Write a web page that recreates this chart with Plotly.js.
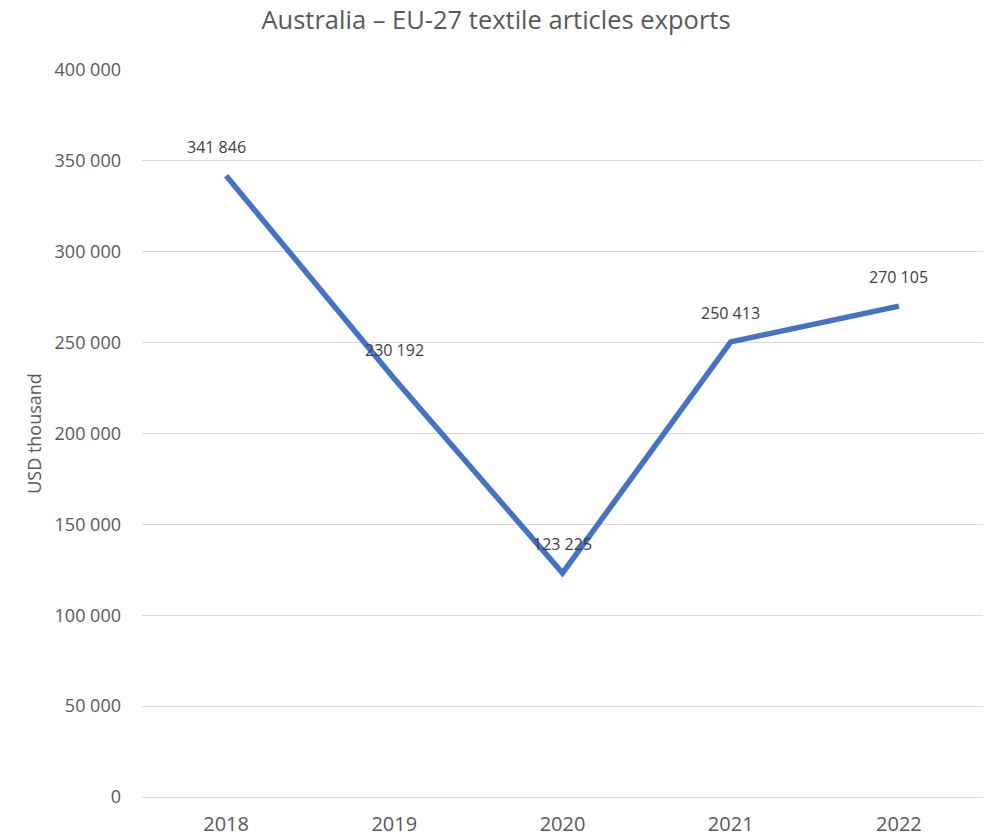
<!DOCTYPE html>
<html>
<head>
<meta charset="utf-8">
<script src="https://cdn.plot.ly/plotly-3.0.1.min.js"></script>
<style>html,body{margin:0;padding:0;background:#fff;}#chart{width:992px;height:839px;}</style>
</head>
<body>
<div id="chart"></div>
<script>
const years = ['2018', '2019', '2020', '2021', '2022'];
const exportsUSD = [341846, 230192, 123225, 250413, 270105];
const labels = ['341 846', '230 192', '123 225', '250 413', '270 105'];
const yTicks = [0, 50000, 100000, 150000, 200000, 250000, 300000, 350000, 400000];

const FONT = '"Open Sans", "Noto Sans", sans-serif';

const trace = {
  x: years,
  y: exportsUSD,
  type: 'scatter',
  mode: 'lines',
  line: {color: '#4472C4', width: 5.5},
  hoverinfo: 'x+y'
};

const annotations = years.map((yr, i) => ({
  x: i, y: exportsUSD[i], xref: 'x', yref: 'y', text: labels[i],
  showarrow: false, yshift: 29, xshift: i === 0 ? -10 : 0,
  font: {family: FONT, size: 16, color: '#404040'}
}));

const layout = {
  width: 992, height: 839,
  margin: {l: 142, r: 9, t: 70, b: 42},
  paper_bgcolor: '#fff', plot_bgcolor: '#fff',
  separators: ', ',
  showlegend: false,
  title: {text: 'Australia \u2013 EU-27 textile articles exports', x: 0.5, xanchor: 'center', y: 0.976, yanchor: 'middle',
          font: {family: FONT, size: 25.5, color: '#595959'}},
  xaxis: {type: 'category', range: [-0.5, 4.5], showgrid: false, zeroline: false, showline: false,
          ticks: '', ticklabelstandoff: 13, tickfont: {family: FONT, size: 20, color: '#595959'}},
  yaxis: {range: [0, 400000], tickvals: yTicks, tickformat: ',d', showgrid: true, gridcolor: '#d9d9d9', gridwidth: 1,
          zeroline: true, zerolinecolor: '#d9d9d9', zerolinewidth: 1, showline: false, ticks: '',
          ticklen: 0, ticklabelstandoff: 20,
          tickfont: {family: FONT, size: 18, color: '#595959'},
          title: {text: 'USD thousand', standoff: 8, font: {family: FONT, size: 18, color: '#595959'}}},
  annotations: annotations
};

Plotly.newPlot('chart', [trace], layout, {displayModeBar: false, staticPlot: true});
</script>
</body>
</html>
